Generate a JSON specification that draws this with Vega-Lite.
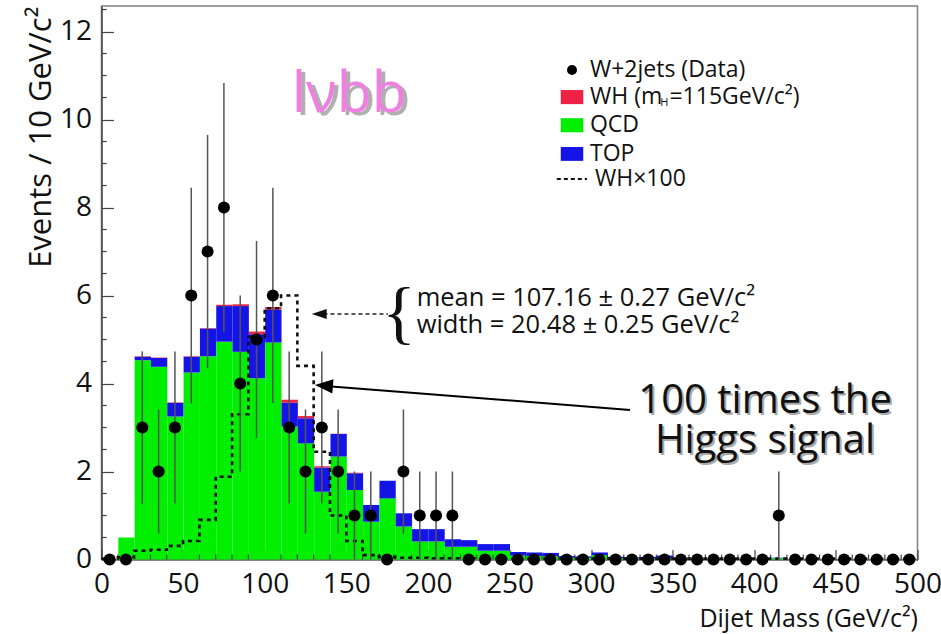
{
  "$schema": "https://vega.github.io/schema/vega-lite/v6.json",
  "width": 816,
  "height": 553.5,
  "autosize": {"type": "none"},
  "padding": {"left": 101.5, "top": 6, "right": 23.5, "bottom": 74.5},
  "background": "white",
  "config": {
    "view": {"stroke": "#808080", "strokeWidth": 1.5},
    "font": "Open Sans",
    "axis": {"labelFont": "Open Sans", "titleFont": "Open Sans", "grid": false, "labelOverlap": false}
  },
  "datasets": {
    "pts": [
      {"x": 5, "n": 0}, {"x": 15, "n": 0}, {"x": 25, "n": 3}, {"x": 35, "n": 2}, {"x": 45, "n": 3},
      {"x": 55, "n": 6}, {"x": 65, "n": 7}, {"x": 75, "n": 8}, {"x": 85, "n": 4}, {"x": 95, "n": 5},
      {"x": 105, "n": 6}, {"x": 115, "n": 3}, {"x": 125, "n": 2}, {"x": 135, "n": 3}, {"x": 145, "n": 2},
      {"x": 155, "n": 1}, {"x": 165, "n": 1}, {"x": 175, "n": 0}, {"x": 185, "n": 2}, {"x": 195, "n": 1},
      {"x": 205, "n": 1}, {"x": 215, "n": 1}, {"x": 225, "n": 0}, {"x": 235, "n": 0}, {"x": 245, "n": 0},
      {"x": 255, "n": 0}, {"x": 265, "n": 0}, {"x": 275, "n": 0}, {"x": 285, "n": 0}, {"x": 295, "n": 0},
      {"x": 305, "n": 0}, {"x": 315, "n": 0}, {"x": 325, "n": 0}, {"x": 335, "n": 0}, {"x": 345, "n": 0},
      {"x": 355, "n": 0}, {"x": 365, "n": 0}, {"x": 375, "n": 0}, {"x": 385, "n": 0}, {"x": 395, "n": 0},
      {"x": 405, "n": 0}, {"x": 415, "n": 1}, {"x": 425, "n": 0}, {"x": 435, "n": 0}, {"x": 445, "n": 0},
      {"x": 455, "n": 0}, {"x": 465, "n": 0}, {"x": 475, "n": 0}, {"x": 485, "n": 0}, {"x": 495, "n": 0}
    ],
    "err": [
      {"x": 25, "lo": 1.27, "hi": 4.73}, {"x": 35, "lo": 0.59, "hi": 3.41}, {"x": 45, "lo": 1.27, "hi": 4.73},
      {"x": 55, "lo": 3.55, "hi": 8.45}, {"x": 65, "lo": 4.35, "hi": 9.65}, {"x": 75, "lo": 5.17, "hi": 10.83},
      {"x": 85, "lo": 2.0, "hi": 6.0}, {"x": 95, "lo": 2.76, "hi": 7.24}, {"x": 105, "lo": 3.55, "hi": 8.45},
      {"x": 115, "lo": 1.27, "hi": 4.73}, {"x": 125, "lo": 0.59, "hi": 3.41}, {"x": 135, "lo": 1.27, "hi": 4.73},
      {"x": 145, "lo": 0.59, "hi": 3.41}, {"x": 155, "lo": 0, "hi": 2}, {"x": 165, "lo": 0, "hi": 2},
      {"x": 185, "lo": 0.59, "hi": 3.41}, {"x": 195, "lo": 0, "hi": 2}, {"x": 205, "lo": 0, "hi": 2},
      {"x": 215, "lo": 0, "hi": 2}, {"x": 415, "lo": 0, "hi": 2}
    ]
  },
  "layer": [
    {
      "data": {"values": [
        {"lo": 10, "hi": 20, "QCD": 0.5, "TOP": 0, "WH": 0},
        {"lo": 20, "hi": 30, "QCD": 4.53, "TOP": 0.08, "WH": 0.01},
        {"lo": 30, "hi": 40, "QCD": 4.38, "TOP": 0.2, "WH": 0.01},
        {"lo": 40, "hi": 50, "QCD": 3.25, "TOP": 0.31, "WH": 0.01},
        {"lo": 50, "hi": 60, "QCD": 4.25, "TOP": 0.36, "WH": 0.01},
        {"lo": 60, "hi": 70, "QCD": 4.62, "TOP": 0.63, "WH": 0.01},
        {"lo": 70, "hi": 80, "QCD": 4.95, "TOP": 0.81, "WH": 0.03},
        {"lo": 80, "hi": 90, "QCD": 4.72, "TOP": 1.04, "WH": 0.04},
        {"lo": 90, "hi": 100, "QCD": 4.12, "TOP": 1.0, "WH": 0.06},
        {"lo": 100, "hi": 110, "QCD": 4.93, "TOP": 0.75, "WH": 0.06},
        {"lo": 110, "hi": 120, "QCD": 3.02, "TOP": 0.54, "WH": 0.07},
        {"lo": 120, "hi": 130, "QCD": 2.64, "TOP": 0.57, "WH": 0.05},
        {"lo": 130, "hi": 140, "QCD": 1.54, "TOP": 0.55, "WH": 0.03},
        {"lo": 140, "hi": 150, "QCD": 2.34, "TOP": 0.51, "WH": 0.01},
        {"lo": 150, "hi": 160, "QCD": 1.58, "TOP": 0.38, "WH": 0.01},
        {"lo": 160, "hi": 170, "QCD": 0.86, "TOP": 0.38, "WH": 0},
        {"lo": 170, "hi": 180, "QCD": 1.39, "TOP": 0.4, "WH": 0},
        {"lo": 180, "hi": 190, "QCD": 0.75, "TOP": 0.3, "WH": 0},
        {"lo": 190, "hi": 200, "QCD": 0.41, "TOP": 0.28, "WH": 0},
        {"lo": 200, "hi": 210, "QCD": 0.41, "TOP": 0.28, "WH": 0},
        {"lo": 210, "hi": 220, "QCD": 0.29, "TOP": 0.17, "WH": 0},
        {"lo": 220, "hi": 230, "QCD": 0.29, "TOP": 0.15, "WH": 0},
        {"lo": 230, "hi": 240, "QCD": 0.2, "TOP": 0.15, "WH": 0},
        {"lo": 240, "hi": 250, "QCD": 0.2, "TOP": 0.15, "WH": 0},
        {"lo": 250, "hi": 260, "QCD": 0.09, "TOP": 0.08, "WH": 0},
        {"lo": 260, "hi": 270, "QCD": 0.08, "TOP": 0.08, "WH": 0},
        {"lo": 270, "hi": 280, "QCD": 0.07, "TOP": 0.08, "WH": 0},
        {"lo": 280, "hi": 290, "QCD": 0.04, "TOP": 0.04, "WH": 0},
        {"lo": 290, "hi": 300, "QCD": 0.04, "TOP": 0.03, "WH": 0},
        {"lo": 300, "hi": 310, "QCD": 0.1, "TOP": 0.06, "WH": 0},
        {"lo": 310, "hi": 320, "QCD": 0.03, "TOP": 0.03, "WH": 0},
        {"lo": 320, "hi": 330, "QCD": 0.02, "TOP": 0.03, "WH": 0},
        {"lo": 330, "hi": 340, "QCD": 0.02, "TOP": 0.04, "WH": 0},
        {"lo": 340, "hi": 350, "QCD": 0.03, "TOP": 0.06, "WH": 0},
        {"lo": 350, "hi": 360, "QCD": 0.02, "TOP": 0.02, "WH": 0},
        {"lo": 410, "hi": 420, "QCD": 0.03, "TOP": 0.01, "WH": 0}
      ]},
      "transform": [{"fold": ["QCD", "TOP", "WH"], "as": ["comp", "v"]}],
      "mark": {"type": "bar", "binSpacing": 0},
      "encoding": {
        "x": {
          "field": "lo", "type": "quantitative", "bin": {"binned": true},
          "scale": {"domain": [0, 500], "nice": false, "zero": false},
          "axis": {
            "values": [0, 50, 100, 150, 200, 250, 300, 350, 400, 450, 500],
            "labelOverlap": false, "labelFlush": false, "format": "d",
            "labelFontSize": 28, "labelColor": "#111", "labelPadding": 21,
            "tickSize": -10, "tickColor": "#444", "tickWidth": 1.2,
            "domainColor": "#666", "domainWidth": 1.5,
            "title": "Dijet Mass (GeV/c²)", "titleFontSize": 25, "titleFontWeight": "normal",
            "titleColor": "#111", "titleAnchor": "end", "titlePadding": 8
          }
        },
        "x2": {"field": "hi"},
        "y": {
          "field": "v", "type": "quantitative", "stack": "zero",
          "scale": {"domain": [0, 12.58], "nice": false},
          "axis": {
            "values": [0, 2, 4, 6, 8, 10, 12],
            "labelOverlap": false, "labelFlush": false, "format": "d",
            "labelFontSize": 28, "labelColor": "#111", "labelPadding": 22,
            "tickSize": -12, "tickColor": "#444", "tickWidth": 1.2,
            "domainColor": "#444", "domainWidth": 1.5,
            "title": "Events / 10 GeV/c²", "titleFontSize": 31, "titleFontWeight": "normal",
            "titleColor": "#111", "titleAnchor": "end", "titlePadding": 2
          }
        },
        "color": {
          "field": "comp", "type": "nominal",
          "scale": {"domain": ["QCD", "TOP", "WH"], "range": ["#00ee00", "#1414e6", "#ee2244"]},
          "legend": null
        },
        "order": {"field": "comp", "sort": "ascending"}
      }
    },
    {
      "data": {"values": [
        {"t": 10}, {"t": 20}, {"t": 30}, {"t": 40}, {"t": 60}, {"t": 70}, {"t": 80}, {"t": 90},
        {"t": 110}, {"t": 120}, {"t": 130}, {"t": 140}, {"t": 160}, {"t": 170}, {"t": 180}, {"t": 190},
        {"t": 210}, {"t": 220}, {"t": 230}, {"t": 240}, {"t": 260}, {"t": 270}, {"t": 280}, {"t": 290},
        {"t": 310}, {"t": 320}, {"t": 330}, {"t": 340}, {"t": 360}, {"t": 370}, {"t": 380}, {"t": 390},
        {"t": 410}, {"t": 420}, {"t": 430}, {"t": 440}, {"t": 460}, {"t": 470}, {"t": 480}, {"t": 490}
      ]},
      "mark": {"type": "rule", "color": "#444", "strokeWidth": 1.2},
      "encoding": {
        "x": {"field": "t", "type": "quantitative"},
        "y": {"datum": 0, "type": "quantitative"},
        "y2": {"datum": 0.115}
      }
    },
    {
      "data": {"values": [
        {"t": 0.5}, {"t": 1}, {"t": 1.5}, {"t": 2.5}, {"t": 3}, {"t": 3.5}, {"t": 4.5}, {"t": 5}, {"t": 5.5},
        {"t": 6.5}, {"t": 7}, {"t": 7.5}, {"t": 8.5}, {"t": 9}, {"t": 9.5}, {"t": 10.5}, {"t": 11}, {"t": 11.5}, {"t": 12.5}
      ]},
      "mark": {"type": "rule", "color": "#444", "strokeWidth": 1.2},
      "encoding": {
        "y": {"field": "t", "type": "quantitative"},
        "x": {"datum": 0, "type": "quantitative"},
        "x2": {"datum": 3.2}
      }
    },
    {
      "data": {"values": [
        {"x": 0, "v": 0.02}, {"x": 10, "v": 0.05}, {"x": 20, "v": 0.2}, {"x": 30, "v": 0.22},
        {"x": 40, "v": 0.31}, {"x": 50, "v": 0.42}, {"x": 60, "v": 0.9}, {"x": 70, "v": 1.88},
        {"x": 80, "v": 3.3}, {"x": 90, "v": 5.06}, {"x": 100, "v": 5.71}, {"x": 110, "v": 6.0},
        {"x": 120, "v": 4.4}, {"x": 130, "v": 2.45}, {"x": 140, "v": 1.0}, {"x": 150, "v": 0.42},
        {"x": 160, "v": 0.1}, {"x": 170, "v": 0.06}, {"x": 180, "v": 0.04}, {"x": 200, "v": 0.03},
        {"x": 230, "v": 0.02}, {"x": 500, "v": 0.02}
      ]},
      "mark": {"type": "line", "interpolate": "step-after", "strokeDash": [4, 4], "strokeWidth": 2.6, "color": "#111"},
      "encoding": {
        "x": {"field": "x", "type": "quantitative"},
        "y": {"field": "v", "type": "quantitative"}
      }
    },
    {
      "data": {"name": "err"},
      "mark": {"type": "rule", "color": "#555", "strokeWidth": 1.5},
      "encoding": {
        "x": {"field": "x", "type": "quantitative"},
        "y": {"field": "lo", "type": "quantitative"},
        "y2": {"field": "hi"}
      }
    },
    {
      "data": {"name": "pts"},
      "mark": {"type": "point", "filled": true, "shape": "circle", "size": 145, "color": "#000", "opacity": 1},
      "encoding": {
        "x": {"field": "x", "type": "quantitative"},
        "y": {"field": "n", "type": "quantitative"}
      }
    },
    {
      "data": {"values": [{"x": 288.3, "y": 11.125}]},
      "mark": {"type": "point", "filled": true, "shape": "circle", "size": 100, "color": "#000", "opacity": 1},
      "encoding": {
        "x": {"field": "x", "type": "quantitative"},
        "y": {"field": "y", "type": "quantitative"}
      }
    },
    {
      "data": {"values": [
        {"x": 281.4, "x2": 295.2, "y": 10.35, "y2": 10.67, "comp": "WH"},
        {"x": 281.4, "x2": 295.2, "y": 9.71, "y2": 10.03, "comp": "QCD"},
        {"x": 281.4, "x2": 295.2, "y": 9.06, "y2": 9.375, "comp": "TOP"}
      ]},
      "mark": {"type": "rect"},
      "encoding": {
        "x": {"field": "x", "type": "quantitative"},
        "x2": {"field": "x2"},
        "y": {"field": "y", "type": "quantitative"},
        "y2": {"field": "y2"},
        "color": {"field": "comp", "type": "nominal", "legend": null}
      }
    },
    {
      "data": {"values": [{"x": 279.0, "y": 8.65}, {"x": 297.5, "y": 8.65}]},
      "mark": {"type": "line", "strokeDash": [4, 3], "strokeWidth": 2, "color": "#111"},
      "encoding": {
        "x": {"field": "x", "type": "quantitative"},
        "y": {"field": "y", "type": "quantitative"}
      }
    },
    {
      "data": {"values": [
        {"x": 299.3, "y": 11.125, "t": "W+2jets (Data)"},
        {"x": 299.3, "y": 10.51, "t": "WH (m"},
        {"x": 348.0, "y": 10.51, "t": "=115GeV/c²)"},
        {"x": 299.3, "y": 9.875, "t": "QCD"},
        {"x": 299.3, "y": 9.216, "t": "TOP"},
        {"x": 302.4, "y": 8.65, "t": "WH×100"}
      ]},
      "mark": {"type": "text", "align": "left", "baseline": "middle", "fontSize": 23, "font": "Open Sans", "color": "#111"},
      "encoding": {
        "x": {"field": "x", "type": "quantitative"},
        "y": {"field": "y", "type": "quantitative"},
        "text": {"field": "t"}
      }
    },
    {
      "data": {"values": [{"x": 342.4, "y": 10.3, "t": "H"}]},
      "mark": {"type": "text", "align": "left", "baseline": "alphabetic", "fontSize": 11, "font": "Open Sans", "color": "#111"},
      "encoding": {
        "x": {"field": "x", "type": "quantitative"},
        "y": {"field": "y", "type": "quantitative"},
        "text": {"field": "t"}
      }
    },
    {
      "data": {"values": [{"x": 116.5, "y": 10.18, "t": "lνbb"}]},
      "mark": {"type": "text", "align": "left", "baseline": "alphabetic", "fontSize": 57, "font": "Open Sans", "color": "#b0b0b0", "dx": 4, "dy": 3},
      "encoding": {
        "x": {"field": "x", "type": "quantitative"},
        "y": {"field": "y", "type": "quantitative"},
        "text": {"field": "t"}
      }
    },
    {
      "data": {"values": [{"x": 116.5, "y": 10.18, "t": "lνbb"}]},
      "mark": {"type": "text", "align": "left", "baseline": "alphabetic", "fontSize": 57, "font": "Open Sans", "color": "#ef7fe0"},
      "encoding": {
        "x": {"field": "x", "type": "quantitative"},
        "y": {"field": "y", "type": "quantitative"},
        "text": {"field": "t"}
      }
    },
    {
      "data": {"values": [
        {"x": 193.1, "y": 5.76, "t": "mean = 107.16 ± 0.27 GeV/c²"},
        {"x": 193.1, "y": 5.14, "t": "width = 20.48 ± 0.25 GeV/c²"}
      ]},
      "mark": {"type": "text", "align": "left", "baseline": "alphabetic", "fontSize": 25.5, "font": "Open Sans", "color": "#111"},
      "encoding": {
        "x": {"field": "x", "type": "quantitative"},
        "y": {"field": "y", "type": "quantitative"},
        "text": {"field": "t"}
      }
    },
    {
      "data": {"values": [{"x": 182.3, "y": 5.56, "t": "{"}]},
      "mark": {"type": "text", "align": "center", "baseline": "middle", "fontSize": 70, "font": "Liberation Serif", "color": "#111"},
      "encoding": {
        "x": {"field": "x", "type": "quantitative"},
        "y": {"field": "y", "type": "quantitative"},
        "text": {"field": "t"}
      }
    },
    {
      "data": {"values": [{"x": 136.0, "y": 5.58}, {"x": 175.5, "y": 5.58}]},
      "mark": {"type": "line", "strokeDash": [4, 3], "strokeWidth": 1.6, "color": "#222"},
      "encoding": {
        "x": {"field": "x", "type": "quantitative"},
        "y": {"field": "y", "type": "quantitative"}
      }
    },
    {
      "data": {"values": [{"x": 133.4, "y": 5.58}]},
      "mark": {"type": "point", "filled": true, "shape": "M -1 0 L 1 -0.67 L 1 0.67 Z", "size": 225, "color": "#111", "opacity": 1},
      "encoding": {
        "x": {"field": "x", "type": "quantitative"},
        "y": {"field": "y", "type": "quantitative"}
      }
    },
    {
      "data": {"values": [{"x": 139.0, "y": 3.94}, {"x": 323.8, "y": 3.40}]},
      "mark": {"type": "line", "strokeWidth": 2, "color": "#000"},
      "encoding": {
        "x": {"field": "x", "type": "quantitative"},
        "y": {"field": "y", "type": "quantitative"}
      }
    },
    {
      "data": {"values": [{"x": 136.3, "y": 3.95}]},
      "mark": {"type": "point", "filled": true, "shape": "M -1 0 L 1 -0.8 L 1 0.8 Z", "size": 324, "angle": 4.5, "color": "#000", "opacity": 1},
      "encoding": {
        "x": {"field": "x", "type": "quantitative"},
        "y": {"field": "y", "type": "quantitative"}
      }
    },
    {
      "data": {"values": [
        {"x": 406.6, "y": 3.33, "t": "100 times the"},
        {"x": 406.6, "y": 2.42, "t": "Higgs signal"}
      ]},
      "mark": {"type": "text", "align": "center", "baseline": "alphabetic", "fontSize": 40, "font": "Open Sans", "color": "#aaaaaa", "dx": 2, "dy": 2},
      "encoding": {
        "x": {"field": "x", "type": "quantitative"},
        "y": {"field": "y", "type": "quantitative"},
        "text": {"field": "t"}
      }
    },
    {
      "data": {"values": [
        {"x": 406.6, "y": 3.33, "t": "100 times the"},
        {"x": 406.6, "y": 2.42, "t": "Higgs signal"}
      ]},
      "mark": {"type": "text", "align": "center", "baseline": "alphabetic", "fontSize": 40, "font": "Open Sans", "color": "#111"},
      "encoding": {
        "x": {"field": "x", "type": "quantitative"},
        "y": {"field": "y", "type": "quantitative"},
        "text": {"field": "t"}
      }
    }
  ]
}
